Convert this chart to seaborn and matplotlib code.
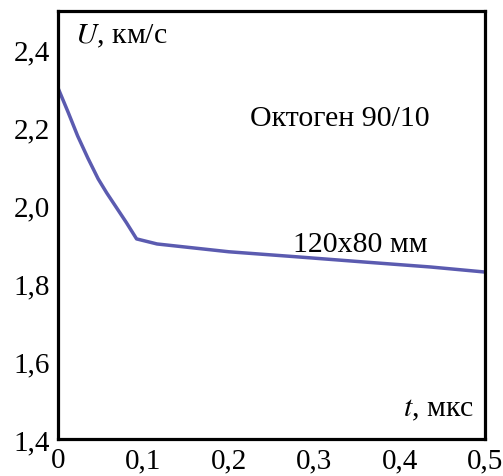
import numpy as np
import pandas as pd
import matplotlib
matplotlib.use("Agg")
import matplotlib.pyplot as plt
import seaborn as sns

t_mks = [0.0, 0.012, 0.023, 0.035, 0.047, 0.057, 0.067, 0.08, 0.092, 0.116, 0.2, 0.28, 0.357, 0.436, 0.5]
u_kms = [2.30, 2.237, 2.177, 2.12, 2.067, 2.031, 1.998, 1.955, 1.913, 1.900, 1.880, 1.867, 1.854, 1.841, 1.828]

xticks = [0, 0.1, 0.2, 0.3, 0.4, 0.5]
xtick_labels = ["0", "0,1", "0,2", "0,3", "0,4", "0,5"]
yticks = [1.4, 1.6, 1.8, 2.0, 2.2, 2.4]
ytick_labels = ["1,4", "1,6", "1,8", "2,0", "2,2", "2,4"]

df = pd.DataFrame({"t": t_mks, "U": u_kms})

sns.set_style("white")
plt.rcParams["font.family"] = ["Liberation Serif", "DejaVu Serif"]
plt.rcParams["text.color"] = "black"

fig = plt.figure(figsize=(5.03, 4.77), dpi=100)
ax = fig.add_axes([0.1153, 0.0776, 0.849, 0.897])

sns.lineplot(data=df, x="t", y="U", color="#5b5bb0", linewidth=2.5, ax=ax)

ax.set_xlim(0, 0.5)
ax.set_ylim(1.4, 2.497)
ax.set_xticks(xticks)
ax.set_xticklabels(xtick_labels, fontsize=21)
ax.set_yticks(yticks)
ax.set_yticklabels(ytick_labels, fontsize=21)
ax.tick_params(direction="in", length=5, width=2, pad=6, colors="black")
ax.set_xlabel("")
ax.set_ylabel("")
for s in ax.spines.values():
    s.set_linewidth(2.3)
    s.set_color("black")

ax.text(0.04, 0.975, "$\\mathit{U}$, км/с", transform=ax.transAxes, fontsize=21.5,
        ha="left", va="top", math_fontfamily="stix", color="black")
ax.text(0.45, 0.75, "Октоген 90/10", transform=ax.transAxes, fontsize=21.5,
        ha="left", va="center", color="black")
ax.text(0.55, 0.455, "120x80 мм", transform=ax.transAxes, fontsize=21.5,
        ha="left", va="center", color="black")
ax.text(0.975, 0.07, "$\\mathit{t}$, мкс", transform=ax.transAxes, fontsize=21.5,
        ha="right", va="center", math_fontfamily="stix", color="black")

fig.savefig("out.png", dpi=100)
